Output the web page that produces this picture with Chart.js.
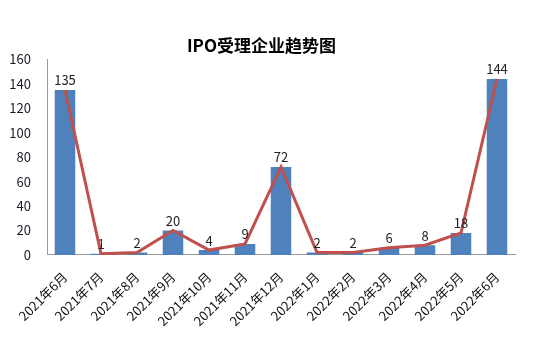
<!DOCTYPE html>
<html lang="zh">
<head>
    <meta charset="UTF-8">
    <title>IPO受理企业趋势图</title>
    <script src="https://cdn.jsdelivr.net/npm/chart.js"></script>
    <style>
        body { margin: 0; background: #fff; }
        #wrap { width: 533px; height: 351px; }
    </style>
</head>
<body>
    <div id="wrap"><canvas id="ipoChart" width="533" height="351"></canvas></div>
    <script>
        // data
        const months = ['2021年6月', '2021年7月', '2021年8月', '2021年9月', '2021年10月', '2021年11月', '2021年12月',
            '2022年1月', '2022年2月', '2022年3月', '2022年4月', '2022年5月', '2022年6月'];
        const ipoCounts = [135, 1, 2, 20, 4, 9, 72, 2, 2, 6, 8, 18, 144];
        const yTicks = [0, 20, 40, 60, 80, 100, 120, 140, 160];

        const fontFamily = '"Noto Sans CJK SC", "DejaVu Sans", sans-serif';

        // value labels above the bars
        const barLabels = {
            id: 'barLabels',
            afterDatasetsDraw(chart) {
                const ctx = chart.ctx;
                const meta = chart.getDatasetMeta(1);
                ctx.save();
                ctx.font = '13px ' + fontFamily;
                ctx.fillStyle = '#222';
                ctx.textAlign = 'center';
                ctx.textBaseline = 'bottom';
                meta.data.forEach((bar, i) => {
                    ctx.fillText(String(ipoCounts[i]), bar.x, bar.y - 3);
                });
                ctx.restore();
            }
        };

        new Chart(document.getElementById('ipoChart'), {
            data: {
                labels: months,
                datasets: [
                    {
                        type: 'line',
                        data: ipoCounts,
                        borderColor: '#C0504D',
                        borderWidth: 3,
                        pointRadius: 0,
                        tension: 0,
                        order: 0
                    },
                    {
                        type: 'bar',
                        data: ipoCounts,
                        backgroundColor: '#4F81BD',
                        barPercentage: 0.57,
                        categoryPercentage: 1,
                        order: 1
                    }
                ]
            },
            options: {
                responsive: false,
                animation: false,
                layout: { padding: { left: 8, right: 18, top: 0, bottom: 16 } },
                plugins: {
                    legend: { display: false },
                    tooltip: { enabled: false },
                    title: {
                        display: true,
                        text: 'IPO受理企业趋势图',
                        color: '#000',
                        font: { family: fontFamily, size: 17, weight: 'bold' },
                        padding: { top: 35, bottom: 4 }
                    }
                },
                scales: {
                    x: {
                        grid: { display: false },
                        border: { color: '#999' },
                        // let the first rotated label run under the y labels, like the original
                        afterFit(scale) {
                            scale.paddingLeft = 0;
                            scale.paddingRight = 0;
                        },
                        ticks: {
                            color: '#111',
                            font: { family: fontFamily, size: 13 },
                            maxRotation: 45,
                            minRotation: 45,
                            autoSkip: false,
                            padding: 6
                        }
                    },
                    y: {
                        min: 0,
                        max: 160,
                        afterBuildTicks(axis) {
                            axis.ticks = yTicks.map(v => ({ value: v }));
                        },
                        afterFit(scale) {
                            scale.width = 39;
                        },
                        grid: { display: false },
                        border: { color: '#999' },
                        ticks: {
                            color: '#1a1a2a',
                            font: { family: fontFamily, size: 13 },
                            padding: 8
                        }
                    }
                }
            },
            plugins: [barLabels]
        });
    </script>
</body>
</html>
